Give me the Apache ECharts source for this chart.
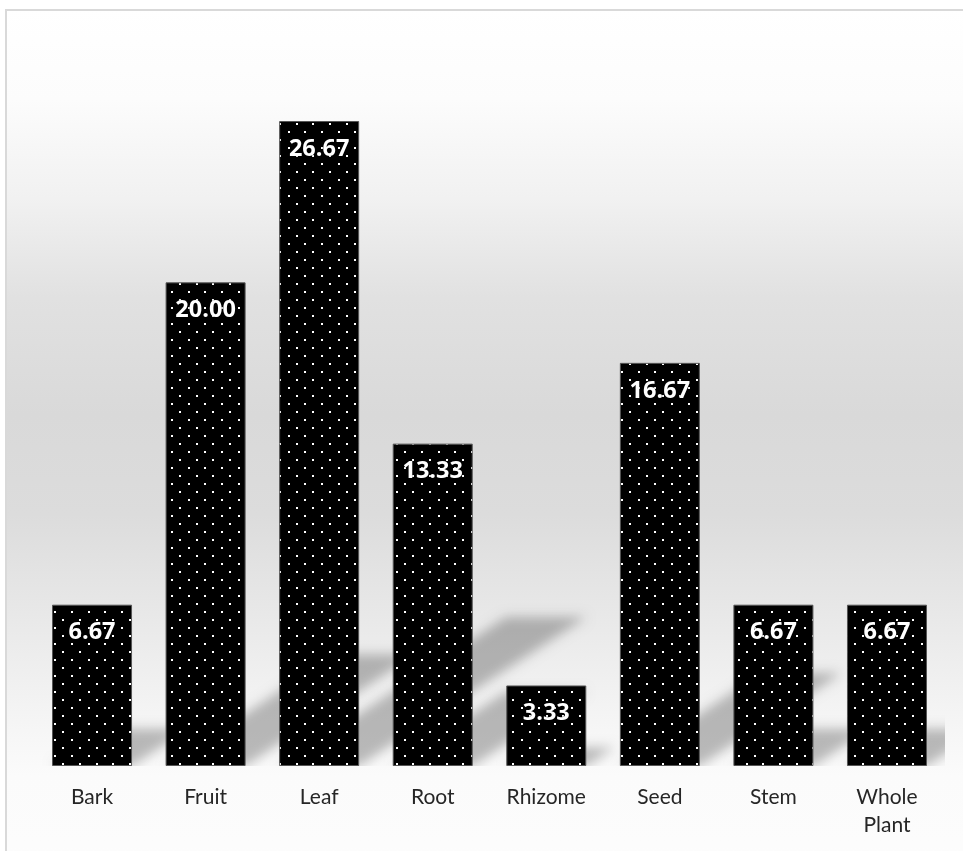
<!DOCTYPE html>
<html>
<head>
<meta charset="utf-8">
<script src="https://cdn.jsdelivr.net/npm/echarts@6/dist/echarts.min.js"></script>
<style>
  html, body { margin: 0; padding: 0; background: #ffffff; }
  #chart { width: 963px; height: 851px; }
</style>
</head>
<body>
<div id="chart"></div>
<script>
// ---- data ----
const categories = ['Bark', 'Fruit', 'Leaf', 'Root', 'Rhizome', 'Seed', 'Stem', 'Whole Plant'];
const values = [6.67, 20.00, 26.67, 13.33, 3.33, 16.67, 6.67, 6.67];
const yMin = 0;
const yMax = 30;

// ---- dotted pattern (black with white dots) ----
function makePattern() {
  const c = document.createElement('canvas');
  c.width = 50; c.height = 48;
  const ctx = c.getContext('2d');
  ctx.fillStyle = '#000000';
  ctx.fillRect(0, 0, c.width, c.height);
  ctx.fillStyle = '#ffffff';
  const colsA = [4, 21, 38];
  const colsB = [12, 29, 46];
  for (let r = 0; r < 6; r++) {
    const y = r * 8 + 3;
    const cols = (r % 2 === 0) ? colsA : colsB;
    cols.forEach(x => ctx.fillRect(x, y, 2, 2));
  }
  return c;
}
const pattern = makePattern();

const chart = echarts.init(document.getElementById('chart'), null, { renderer: 'canvas' });

function renderShadow(params, api) {
  const idx = api.value(0);
  const v = api.value(1);
  const base = api.coord([idx, 0]);
  const top = api.coord([idx, v]);
  const h = base[1] - top[1];
  const w = 80;
  const dx = 0.352 * h, dy = 0.231 * h;
  const xl = base[0] - w / 2, xr = base[0] + w / 2, y0 = base[1];
  const OFF = 3000;
  return {
    type: 'polygon',
    shape: { points: [[xl - OFF, y0], [xr - OFF, y0], [xr + dx - OFF, y0 - dy], [xl + dx - OFF, y0 - dy]] },
    style: { fill: '#000', shadowBlur: 12, shadowColor: 'rgba(0,0,0,0.26)', shadowOffsetX: OFF, shadowOffsetY: 0 },
    silent: true
  };
}

const option = {
  animation: false,
  graphic: [
    {
      type: 'rect', z: -10, silent: true,
      shape: { x: 6, y: 10, width: 1000, height: 900 },
      style: {
        fill: {
          type: 'linear', x: 0, y: 0, x2: 0, y2: 1,
          colorStops: [
            { offset: 0.00, color: '#ffffff' },
            { offset: 0.10, color: '#fcfcfc' },
            { offset: 0.21, color: '#f1f1f1' },
            { offset: 0.32, color: '#e1e1e1' },
            { offset: 0.45, color: '#d9d9d9' },
            { offset: 0.56, color: '#dcdcdc' },
            { offset: 0.67, color: '#e8e8e8' },
            { offset: 0.78, color: '#f4f4f4' },
            { offset: 0.85, color: '#fbfbfb' },
            { offset: 1.00, color: '#fdfdfd' }
          ]
        },
        stroke: '#d9d9d9', lineWidth: 2
      }
    }
  ],
  grid: { left: 35.25, right: 19.25, top: 40.5, bottom: 85, containLabel: false },
  xAxis: {
    type: 'category',
    data: categories,
    axisLine: { show: false },
    axisTick: { show: false },
    axisLabel: {
      margin: 17,
      color: '#262626',
      fontFamily: 'Lato',
      fontSize: 21,
      lineHeight: 28,
      interval: 0,
      formatter: v => v.replace(' ', '\n')
    }
  },
  yAxis: {
    type: 'value', min: yMin, max: yMax, show: false,
    splitLine: { show: false }
  },
  series: [
    {
      type: 'custom',
      renderItem: renderShadow,
      data: values.map((v, i) => [i, v]),
      clip: true,
      z: 1,
      silent: true
    },
    {
      type: 'bar',
      data: values,
      barWidth: 80,
      z: 3,
      itemStyle: {
        color: { image: pattern, repeat: 'repeat' },
        borderColor: '#555555',
        borderWidth: 1
      },
      label: {
        show: true,
        position: 'insideTop',
        distance: 15,
        color: '#ffffff',
        fontFamily: 'Open Sans',
        fontWeight: 'bold',
        fontSize: 23.5,
        lineHeight: 26,
        textShadowColor: 'rgba(0,0,0,0.7)',
        textShadowBlur: 2,
        formatter: p => p.value.toFixed(2)
      }
    }
  ]
};
chart.setOption(option);
</script>
</body>
</html>
